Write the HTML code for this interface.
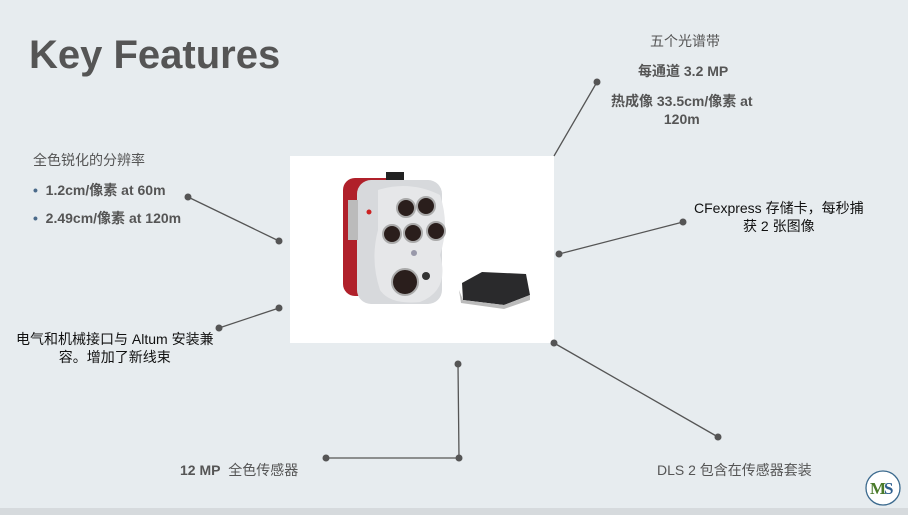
<!DOCTYPE html>
<html><head><meta charset="utf-8"><style>
html,body{margin:0;padding:0}
body{width:908px;height:515px;background:#e7ecef;position:relative;overflow:hidden;font-family:"Liberation Sans","Noto Sans CJK SC",sans-serif;color:#555}
.t{position:absolute;white-space:nowrap}
.b{font-weight:bold}
</style></head><body>
<div style="position:absolute;left:0;top:508px;width:908px;height:7px;background:#d6dadd"></div>
<div class="t b" style="left:29px;top:33px;font-size:40px;color:#555;letter-spacing:0px">Key Features</div>

<div style="position:absolute;left:290px;top:156px;width:264px;height:187px;background:#fff"></div>
<svg width="908" height="515" style="position:absolute;left:0;top:0">
 <!-- camera -->
 <rect x="343" y="178" width="60" height="118" rx="12" fill="#b0202a"/>
 <rect x="386" y="172" width="18" height="10" fill="#222"/>
 <rect x="357" y="180" width="85" height="124" rx="14" fill="#d7d9dc"/>
 <rect x="348" y="200" width="10" height="40" fill="#bbb"/>
 <circle cx="369" cy="212" r="2.5" fill="#c22"/>
 <path d="M378 190 Q410 180 440 195 Q450 225 440 255 Q450 290 420 302 Q390 305 380 290 Q370 260 378 230 Z" fill="#e6e7e9"/>
 <g fill="#2a1e1c" stroke="#aaa" stroke-width="2">
  <circle cx="406" cy="208" r="9"/><circle cx="426" cy="206" r="9"/>
  <circle cx="392" cy="234" r="9"/><circle cx="413" cy="233" r="9"/><circle cx="436" cy="231" r="9"/>
  <circle cx="405" cy="282" r="13"/>
 </g>
 <circle cx="426" cy="276" r="4" fill="#333"/>
 <circle cx="414" cy="253" r="3" fill="#99a"/>
 <path d="M462 283 L482 272 L526 274 L530 295 L504 305 L463 300 Z" fill="#2a2a2c"/>
 <path d="M459 290 L463 300 L504 305 L530 295 L530 300 L504 309 L461 303 Z" fill="#bbb"/>
 <!-- lines -->
 <g stroke="#555" stroke-width="1.3" fill="none">
  <line x1="597" y1="82" x2="554" y2="156"/>
  <line x1="683" y1="222" x2="559" y2="254"/>
  <line x1="188" y1="197" x2="279" y2="241"/>
  <line x1="279" y1="308" x2="219" y2="328"/>
  <line x1="554" y1="343" x2="718" y2="437"/>
  <polyline points="458,364 459,458 326,458"/>
 </g>
 <g fill="#555">
  <circle cx="597" cy="82" r="3.5"/><circle cx="683" cy="222" r="3.5"/><circle cx="559" cy="254" r="3.5"/>
  <circle cx="188" cy="197" r="3.5"/><circle cx="279" cy="241" r="3.5"/><circle cx="279" cy="308" r="3.5"/><circle cx="219" cy="328" r="3.5"/>
  <circle cx="554" cy="343" r="3.5"/><circle cx="718" cy="437" r="3.5"/>
  <circle cx="458" cy="364" r="3.5"/><circle cx="459" cy="458" r="3.5"/><circle cx="326" cy="458" r="3.5"/>
 </g>
 <circle cx="883" cy="488" r="17" fill="#fff" stroke="#3b6a8e" stroke-width="1.3"/>
 <text x="870" y="494" font-family="Liberation Serif" font-size="17" font-weight="bold" fill="#4a7a2a">M</text>
 <text x="884" y="494" font-family="Liberation Serif" font-size="17" font-weight="bold" fill="#2f5f8f">S</text>
</svg>

<div class="t" style="left:650px;top:31px;font-size:14px">五个光谱带</div>
<div class="t b" style="left:638px;top:61px;font-size:14px">每通道 3.2 MP</div>
<div class="t b" style="left:611px;top:92px;font-size:14px;text-align:center;line-height:18px">热成像 33.5cm/像素 at<br>120m</div>

<div class="t" style="left:33px;top:150px;font-size:14px">全色锐化的分辨率</div>
<div class="t b" style="left:33px;top:180px;font-size:14px"><span style="color:#4a6a8a">•</span>&nbsp;&nbsp;1.2cm/像素 at 60m</div>
<div class="t b" style="left:33px;top:208px;font-size:14px"><span style="color:#4a6a8a">•</span>&nbsp;&nbsp;2.49cm/像素 at 120m</div>

<div class="t" style="left:694px;top:199px;font-size:14px;color:#111;text-align:center;line-height:18px">CFexpress 存储卡，每秒捕<br>获 2 张图像</div>
<div class="t" style="left:16px;top:330px;font-size:14px;color:#111;text-align:center;line-height:18px">电气和机械接口与 Altum 安装兼<br>容。增加了新线束</div>
<div class="t" style="left:180px;top:460px;font-size:14px"><b>12 MP</b>&nbsp; 全色传感器</div>
<div class="t" style="left:657px;top:460px;font-size:14px">DLS 2 包含在传感器套装</div>
</body></html>
